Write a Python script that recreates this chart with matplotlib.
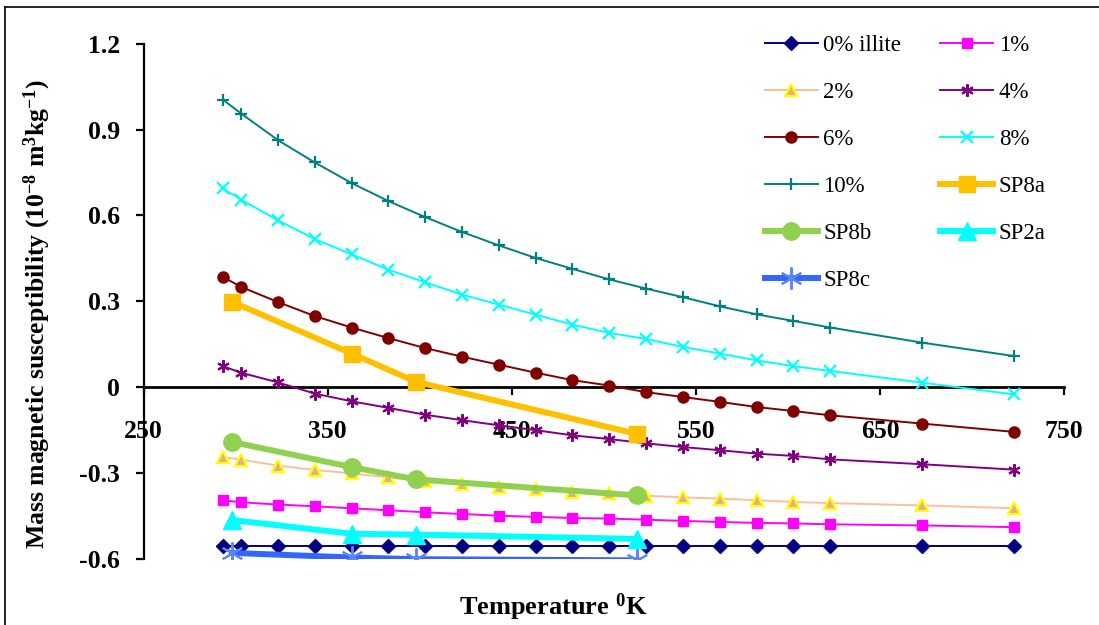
import matplotlib
matplotlib.use('Agg')
from matplotlib import pyplot as plt
from matplotlib.lines import Line2D
from matplotlib.ticker import FixedLocator, FuncFormatter

plt.rcParams['font.family'] = ['Liberation Serif', 'DejaVu Serif']
plt.rcParams['mathtext.fontset'] = 'custom'
plt.rcParams['mathtext.rm'] = 'Liberation Serif:bold'
plt.rcParams['mathtext.default'] = 'rm'
plt.rcParams['axes.unicode_minus'] = False

# temperatures (K) of the illite mixtures
temps = [293, 303, 323, 343, 363, 383, 403, 423, 443, 463,
         483, 503, 523, 543, 563, 583, 603, 623, 673, 723]

ill0 = [-0.555, -0.555, -0.555, -0.555, -0.555, -0.555, -0.555, -0.555, -0.555, -0.555,
        -0.555, -0.555, -0.555, -0.555, -0.555, -0.555, -0.555, -0.555, -0.555, -0.555]
ill1 = [-0.396, -0.403, -0.411, -0.417, -0.424, -0.431, -0.438, -0.444, -0.450, -0.454,
        -0.458, -0.460, -0.464, -0.468, -0.472, -0.475, -0.477, -0.480, -0.484, -0.490]
ill2 = [-0.245, -0.254, -0.275, -0.290, -0.302, -0.316, -0.330, -0.339, -0.348, -0.357,
        -0.366, -0.372, -0.380, -0.386, -0.390, -0.396, -0.402, -0.406, -0.414, -0.424]
ill4 = [0.073, 0.050, 0.016, -0.023, -0.050, -0.073, -0.097, -0.116, -0.134, -0.151,
        -0.169, -0.182, -0.197, -0.210, -0.221, -0.233, -0.241, -0.253, -0.270, -0.289]
ill6 = [0.385, 0.350, 0.297, 0.248, 0.208, 0.171, 0.136, 0.106, 0.078, 0.050,
        0.024, 0.005, -0.018, -0.035, -0.052, -0.070, -0.084, -0.099, -0.128, -0.157]
ill8 = [0.694, 0.655, 0.583, 0.517, 0.464, 0.410, 0.366, 0.323, 0.288, 0.253,
        0.218, 0.189, 0.168, 0.140, 0.117, 0.093, 0.073, 0.056, 0.015, -0.026]
ill10 = [1.005, 0.956, 0.863, 0.785, 0.713, 0.650, 0.594, 0.542, 0.495, 0.451,
         0.413, 0.376, 0.344, 0.314, 0.282, 0.254, 0.231, 0.208, 0.155, 0.108]

# samples
sp_temps = [298, 363, 398, 518]
sp8a = [0.298, 0.117, 0.018, -0.164]
sp8b = [-0.192, -0.280, -0.323, -0.379]
sp2a = [-0.465, -0.513, -0.516, -0.531]
sp8c = [-0.580, -0.596, -0.602, -0.606]

xticks = [250, 350, 450, 550, 650, 750]
yticks = [-0.6, -0.3, 0, 0.3, 0.6, 0.9, 1.2]

star = (6, 2, 0)

fig = plt.figure(figsize=(10.99, 6.25), dpi=100)
ax = fig.add_axes([0.1306, 0.1062, 0.8376, 0.8238])

thin = dict(lw=1.4, zorder=3)
thick = dict(lw=4.3, zorder=4)

h = {}
h['0% illite'], = ax.plot(temps, ill0, color='#000080', marker='D', ms=7, **thin)
h['1%'], = ax.plot(temps, ill1, color='#FF00FF', marker='s', ms=7.5, **thin)
h['2%'], = ax.plot(temps, ill2, color='#FAC09A', marker='^', ms=8.5,
                   mfc='#E3AE8C', mec='#FFFF00', mew=1.6, **thin)
h['4%'], = ax.plot(temps, ill4, color='#800080', marker=star, ms=9, mew=1.5, **thin)
h['6%'], = ax.plot(temps, ill6, color='#800000', marker='o', ms=8, **thin)
h['8%'], = ax.plot(temps, ill8, color='#00FFFF', marker='x', ms=8, mew=1.6, **thin)
h['10%'], = ax.plot(temps, ill10, color='#008080', marker='+', ms=9, mew=1.6, **thin)
h['SP8a'], = ax.plot(sp_temps, sp8a, color='#FFC000', marker='s', ms=12, **thick)
h['SP8b'], = ax.plot(sp_temps, sp8b, color='#92D050', marker='o', ms=12.5, **thick)
h['SP2a'], = ax.plot(sp_temps, sp2a, color='#00FFFF', marker='^', ms=13, **thick)
h['SP8c'], = ax.plot(sp_temps, sp8c, color='#3366FF', marker=star, ms=16, mew=1.4,
                     mec='#5B85FF', **thick)

ax.set_xlim(250, 750)
ax.set_ylim(-0.6, 1.2)
ax.spines['top'].set_visible(False)
ax.spines['right'].set_visible(False)
ax.spines['bottom'].set_position(('data', 0))
ax.spines['bottom'].set_linewidth(2)
ax.spines['left'].set_linewidth(1.6)
ax.spines['bottom'].set_zorder(2)
ax.spines['left'].set_zorder(2)

ax.xaxis.set_major_locator(FixedLocator(xticks))
ax.yaxis.set_major_locator(FixedLocator(yticks))
ax.yaxis.set_major_formatter(FuncFormatter(lambda v, p: '%g' % v))
ax.tick_params(axis='x', direction='out', length=6, width=1.6, pad=18,
               labelsize=18.5)
ax.tick_params(axis='y', direction='out', length=6, width=1.6, pad=11,
               labelsize=18.5)
for lab in ax.get_xticklabels() + ax.get_yticklabels():
    lab.set_fontweight('bold')

fig.text(37 / 1099, 1 - 314 / 625,
         'Mass magnetic susceptibility (10$^{-8}$ m$^{3}$kg$^{-1}$)',
         rotation=90, ha='center', va='center', fontsize=18.5, fontweight='bold')
fig.text(553 / 1099, 1 - 607 / 625, 'Temperature $^{0}$K',
         ha='center', va='center', fontsize=19, fontweight='bold')

order = ['0% illite', '2%', '6%', '10%', 'SP8b', 'SP8c',
         '1%', '4%', '8%', 'SP8a', 'SP2a']
ax.legend([h[k] for k in order], order, ncol=2, loc='upper left',
          bbox_to_anchor=(765 / 1099, 1 - 35 / 625), bbox_transform=fig.transFigure,
          frameon=False, fontsize=16.5, numpoints=1, borderpad=0, borderaxespad=0,
          handlelength=2.3, handletextpad=0.25, columnspacing=1.7,
          labelspacing=1.13)

# outer chart border
fig.add_artist(Line2D([5 / 1099, 5 / 1099], [0, 1 - 7 / 625], color='black', lw=1.2))
fig.add_artist(Line2D([5 / 1099, 1], [1 - 7 / 625, 1 - 7 / 625], color='black', lw=1.2))

fig.savefig('out.png', dpi=100)
